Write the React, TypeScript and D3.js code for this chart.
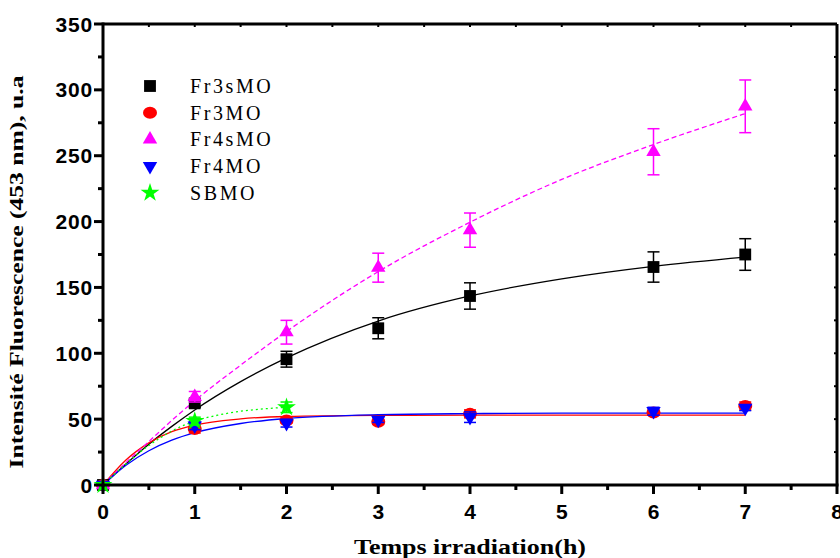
import React from "react";
import * as d3 from "d3";

const seriesNames = ["Fr3sMO", "Fr3MO", "Fr4sMO", "Fr4MO", "SBMO"];
const seriesColors = ["#000000", "#ff0000", "#ff00ff", "#0000ff", "#00ff00"];

const timesMain = [0, 1, 2, 3, 4, 6, 7];
const timesSB = [0, 1, 2];

const fr3sMO = [0, 62, 95.5, 119, 143.5, 165.5, 175];
const fr3sMOErr = [0, 3, 6, 8, 10, 11.5, 12];
const fr3MO = [0, 42.5, 49, 48, 54, 55, 60];
const fr3MOErr = [0, 3, 2, 2, 3, 2, 3];
const fr4sMO = [0, 67, 116, 165, 193.5, 253, 287.5];
const fr4sMOErr = [0, 4, 9, 11, 13, 17.5, 20];
const fr4MO = [0, 45, 47, 49.5, 51.5, 56, 58.5];
const fr4MOErr = [0, 3, 3, 2, 4, 3, 2];
const sbMO = [0, 48.5, 59];
const sbMOErr = [0, 3, 4];

// fitted curves, values
const fitT = [0, 0.25, 0.5, 0.75, 1, 1.5, 2, 3, 4, 5, 6, 7];
const fitFr3sMO = [0, 16, 31, 44.5, 57, 78.5, 96.5, 124.5, 143.5, 156.5, 166, 173];
const fitFr3MO = [0, 19, 32, 40.5, 45.5, 50.2, 52, 52.8, 53, 53, 53, 53];
const fitFr4sMO = [0, 17, 33, 49, 64, 91, 116.5, 162, 199.5, 232, 258.5, 282];
const fitFr4MO = [0, 15, 26, 34, 39.7, 46.7, 50.5, 53.4, 54.2, 54.5, 54.5, 54.5];
const fitSBT = [0, 0.25, 0.5, 0.75, 1, 1.25, 1.5, 1.75, 2];
const fitSBMO = [0, 16, 30, 41, 48.5, 53, 56, 57.8, 59];

const xTicks = [0, 1, 2, 3, 4, 5, 6, 7, 8];
const yTicks = [0, 50, 100, 150, 200, 250, 300, 350];

const xTitle = "Temps irradiation(h)";
const yTitle = "Intensité Fluorescence (453 nm), u.a";

const W = 840;
const H = 558;

export default function App() {
  const x = d3.scaleLinear().domain([0, 8]).range([103, 837]);
  const y = d3.scaleLinear().domain([0, 350]).range([485, 24]);

  const line = d3
    .line<[number, number]>()
    .x((d) => x(d[0]))
    .y((d) => y(d[1]))
    .curve(d3.curveMonotoneX);

  const series = [
    { t: timesMain, v: fr3sMO, e: fr3sMOErr, ft: fitT, fv: fitFr3sMO, dash: undefined },
    { t: timesMain, v: fr3MO, e: fr3MOErr, ft: fitT, fv: fitFr3MO, dash: undefined },
    { t: timesMain, v: fr4sMO, e: fr4sMOErr, ft: fitT, fv: fitFr4sMO, dash: "5,3" },
    { t: timesMain, v: fr4MO, e: fr4MOErr, ft: fitT, fv: fitFr4MO, dash: undefined },
    { t: timesSB, v: sbMO, e: sbMOErr, ft: fitSBT, fv: fitSBMO, dash: "2,3" },
  ];

  const sq = d3.symbol(d3.symbolSquare, 140)()!;
  const tri = d3.symbol(d3.symbolTriangle, 90)()!;
  const star = d3.symbol(d3.symbolStar, 110)()!;

  const marker = (i: number, cx: number, cy: number, key: string) => {
    const c = seriesColors[i];
    if (i === 0) return <path key={key} d={sq} transform={`translate(${cx},${cy})`} fill={c} />;
    if (i === 1) return <ellipse key={key} cx={cx} cy={cy} rx={7} ry={6} fill={c} />;
    if (i === 2) return <path key={key} d={tri} transform={`translate(${cx},${cy})`} fill={c} />;
    if (i === 3) return <path key={key} d={tri} transform={`translate(${cx},${cy}) rotate(180)`} fill={c} />;
    return <path key={key} d={star} transform={`translate(${cx},${cy})`} fill={c} />;
  };

  const minorX = d3.range(0, 8.01, 0.5);
  const minorY = d3.range(0, 350.1, 25);

  return (
    <svg
      width={W}
      height={H}
      style={{ position: "absolute", left: 0, top: 0, background: "#fff" }}
    >
      <rect x={0} y={0} width={W} height={H} fill="#fff" />
      {/* fitted curves */}
      {series.map((s, i) => (
        <path
          key={"fit" + i}
          d={line(s.ft.map((t, j) => [t, s.fv[j]] as [number, number]))!}
          fill="none"
          stroke={seriesColors[i]}
          strokeWidth={1.3}
          strokeDasharray={s.dash}
        />
      ))}
      {/* error bars and markers */}
      {series.map((s, i) => (
        <g key={"s" + i}>
          {s.t.map((t, j) =>
            s.e[j] > 0 ? (
              <g key={"e" + j} stroke={seriesColors[i]} strokeWidth={1.5}>
                <line x1={x(t)} x2={x(t)} y1={y(s.v[j] - s.e[j])} y2={y(s.v[j] + s.e[j])} />
                <line x1={x(t) - 6} x2={x(t) + 6} y1={y(s.v[j] + s.e[j])} y2={y(s.v[j] + s.e[j])} />
                <line x1={x(t) - 6} x2={x(t) + 6} y1={y(s.v[j] - s.e[j])} y2={y(s.v[j] - s.e[j])} />
              </g>
            ) : null
          )}
          {s.t.map((t, j) => marker(i, x(t), y(s.v[j]), "m" + j))}
        </g>
      ))}
      {/* frame */}
      <line x1={x(0)} x2={x(8)} y1={y(350)} y2={y(350)} stroke="#000" strokeWidth={3} />
      <line x1={x(8)} x2={x(8)} y1={y(0)} y2={y(350)} stroke="#000" strokeWidth={3} />
      {/* axes */}
      <line x1={x(0)} x2={x(8) + 1.5} y1={y(0)} y2={y(0)} stroke="#000" strokeWidth={3} />
      <line x1={x(0)} x2={x(0)} y1={y(0) + 1.5} y2={y(350) - 1.5} stroke="#000" strokeWidth={3} />
      {minorX.map((t) => (
        <line
          key={"xt" + t}
          x1={x(t)}
          x2={x(t)}
          y1={y(0)}
          y2={y(0) + (t % 1 === 0 ? 9 : 5)}
          stroke="#000"
          strokeWidth={3}
        />
      ))}
      {minorY.map((v) => (
        <line
          key={"yt" + v}
          x1={x(0)}
          x2={x(0) - (v % 50 === 0 ? 9 : 5)}
          y1={y(v)}
          y2={y(v)}
          stroke="#000"
          strokeWidth={3}
        />
      ))}
      {minorX.map((t) => (
        <line key={"xtt" + t} x1={x(t)} x2={x(t)} y1={y(350)} y2={y(350) + 3} stroke="#000" strokeWidth={2} />
      ))}
      {minorY.map((v) => (
        <line key={"ytr" + v} x1={x(8)} x2={x(8) - 3} y1={y(v)} y2={y(v)} stroke="#000" strokeWidth={2} />
      ))}
      {/* tick labels */}
      <g fontFamily="'Liberation Sans', Arial, sans-serif" fontWeight="bold" fontSize={21} fill="#000">
        {xTicks.map((t) => (
          <text key={"xl" + t} x={x(t)} y={519} textAnchor="middle">
            {t}
          </text>
        ))}
        {yTicks.map((v) => (
          <text key={"yl" + v} x={x(0) - 10} y={y(v) + 7.5} textAnchor="end" letterSpacing={0.8}>
            {v}
          </text>
        ))}
      </g>
      {/* titles */}
      <text
        x={470}
        y={554}
        textAnchor="middle"
        fontFamily="'Liberation Serif', 'Times New Roman', serif"
        fontWeight="bold"
        fontSize={20}
        textLength={232}
        lengthAdjust="spacingAndGlyphs"
      >
        {xTitle}
      </text>
      <text
        transform="translate(23,272) rotate(-90)"
        textAnchor="middle"
        fontFamily="'Liberation Serif', 'Times New Roman', serif"
        fontWeight="bold"
        fontSize={19}
        textLength={393}
        lengthAdjust="spacingAndGlyphs"
      >
        {yTitle}
      </text>
      {/* legend */}
      {seriesNames.map((n, i) => {
        const cy = 86 + i * 26.7;
        return (
          <g key={"lg" + i}>
            {marker(i, 150, cy, "lm" + i)}
            <text
              x={190}
              y={cy + 7}
              fontFamily="'Liberation Serif', 'Times New Roman', serif"
              fontSize={20}
              letterSpacing={2.6}
              fill="#000"
            >
              {n}
            </text>
          </g>
        );
      })}
    </svg>
  );
}
